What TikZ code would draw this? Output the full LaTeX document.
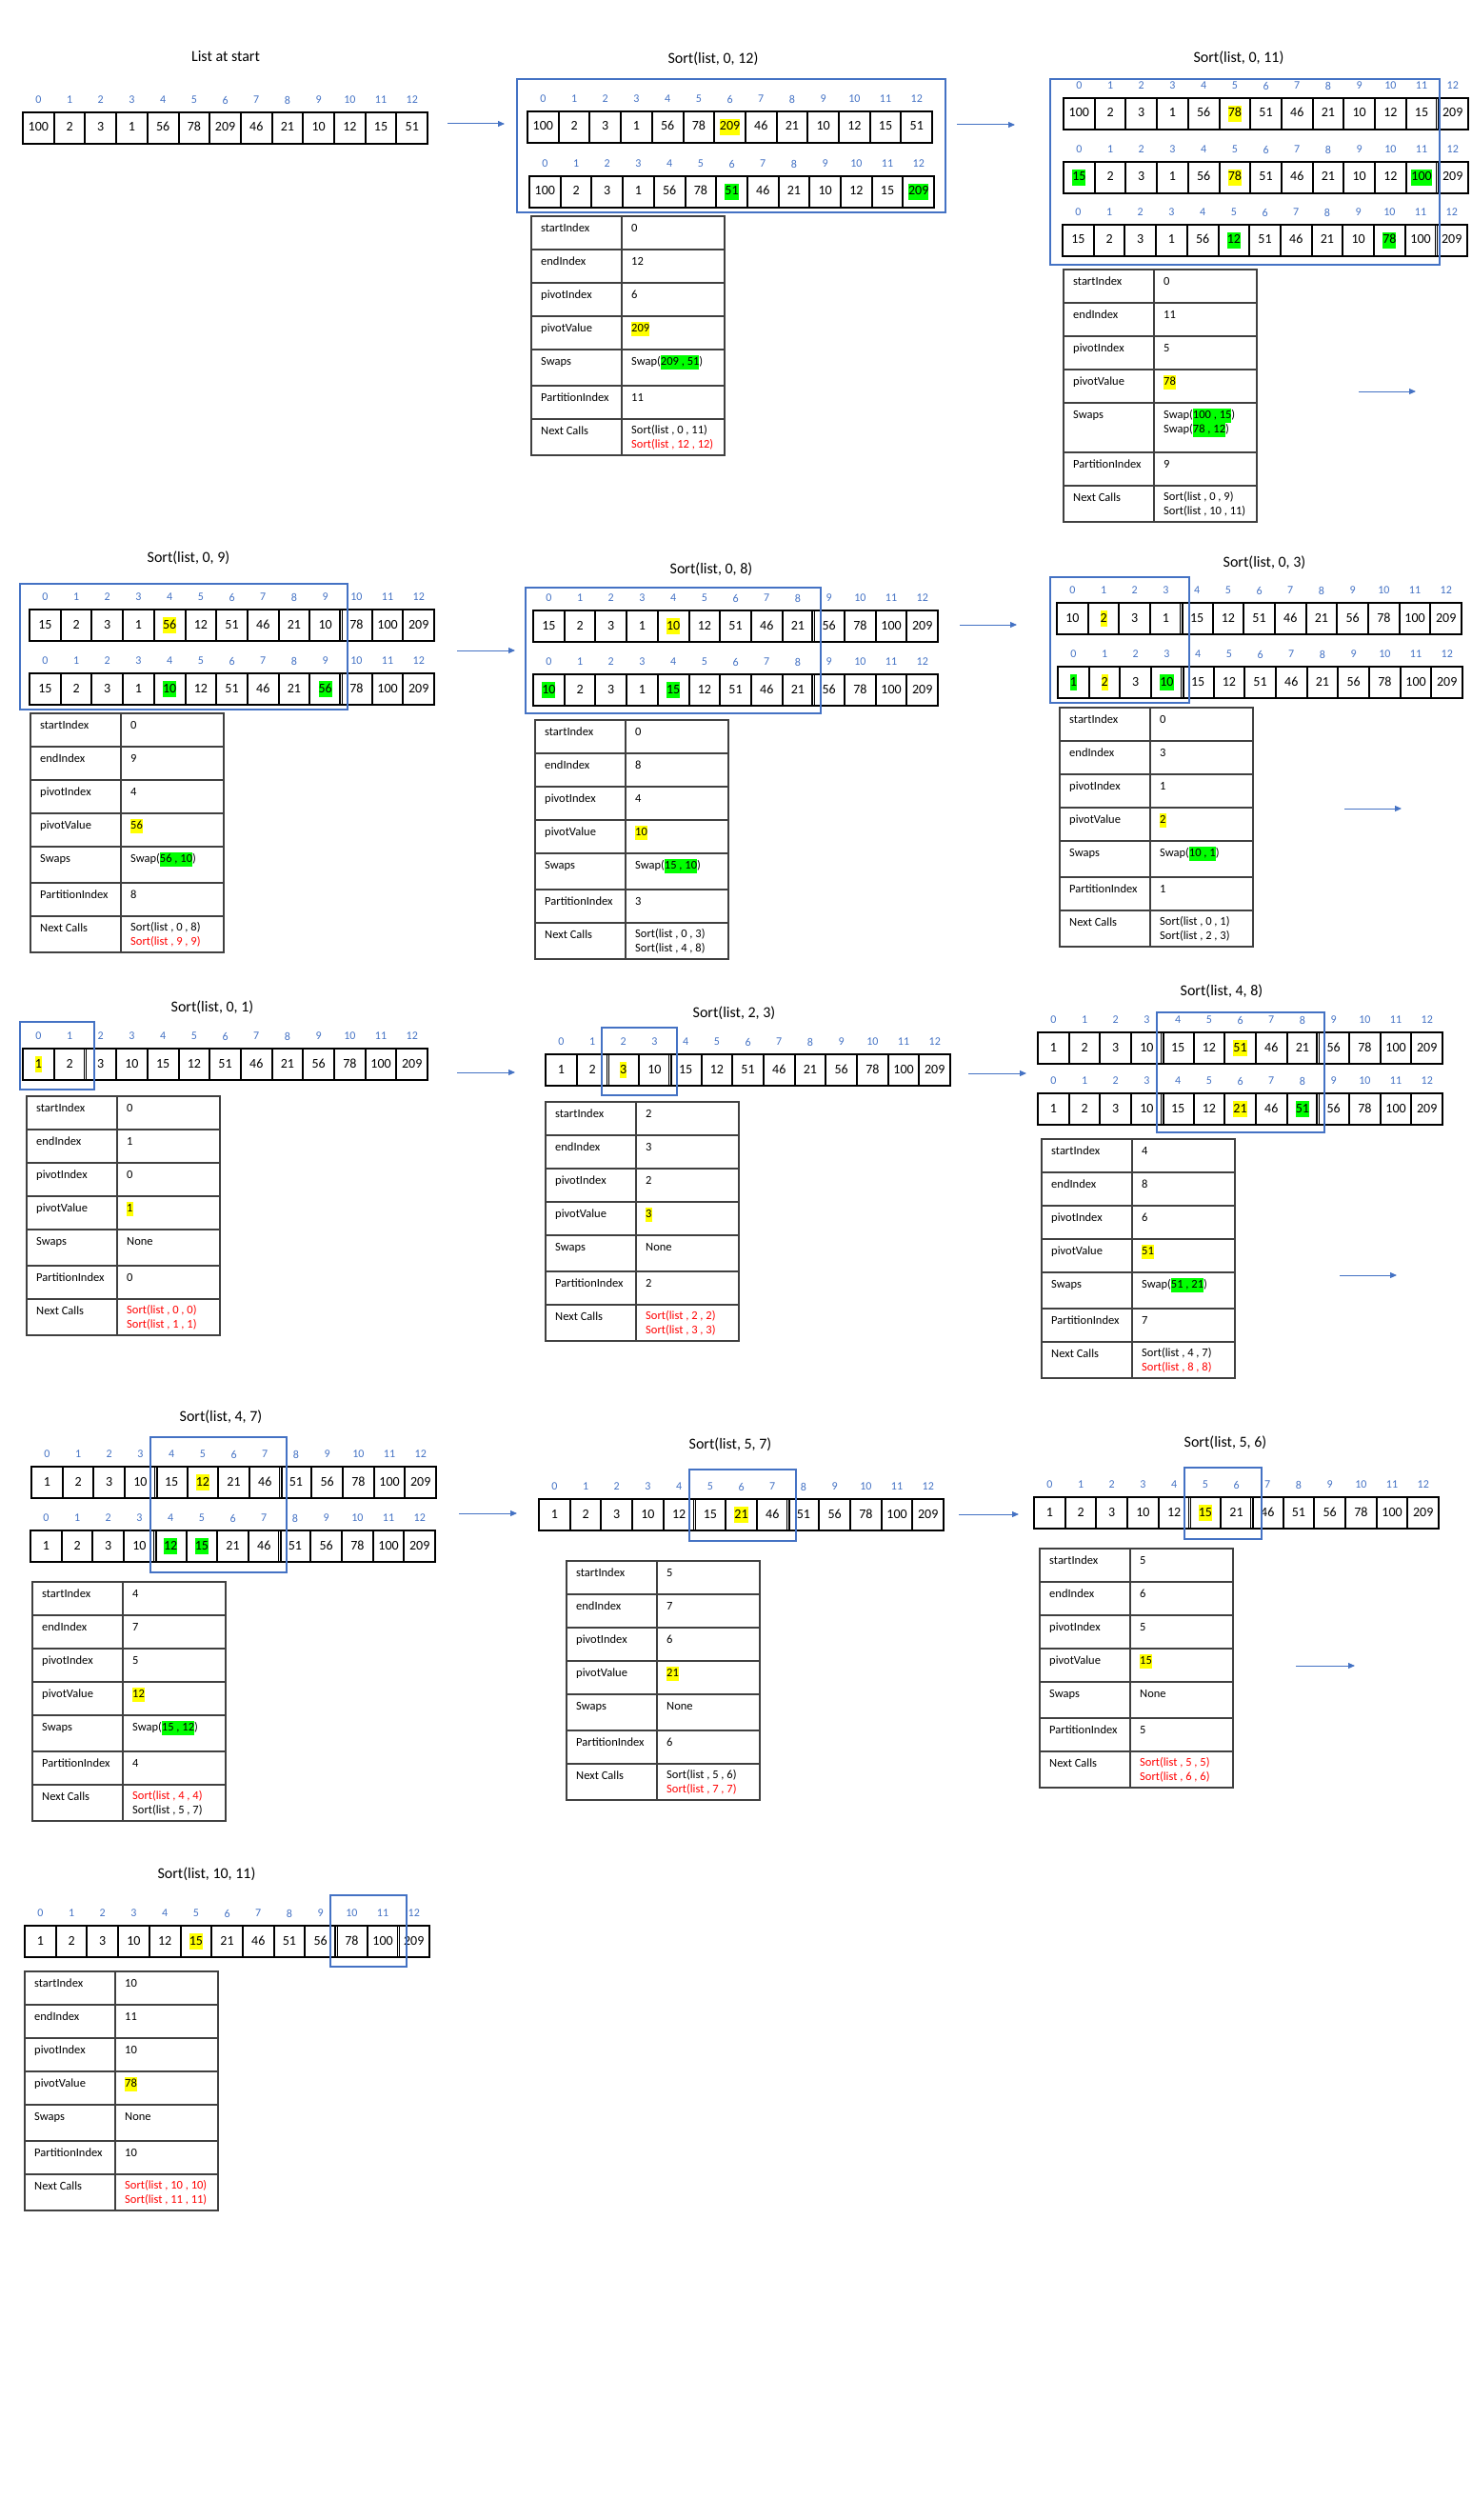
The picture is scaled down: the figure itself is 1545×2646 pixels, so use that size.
\documentclass[tikz,border=0pt]{standalone}
\usepackage{fontspec}
\setmainfont{Carlito}
\usetikzlibrary{arrows.meta}

\definecolor{idxblue}{HTML}{4472C4}
\definecolor{hlyellow}{HTML}{FFFF00}
\definecolor{hlgreen}{HTML}{00FF00}
\definecolor{callred}{HTML}{FF0000}
\definecolor{tabline}{HTML}{404040}

\newcommand\Y[1]{{\setlength\fboxsep{0pt}\colorbox{hlyellow}{\strut#1}}}
\newcommand\G[1]{{\setlength\fboxsep{0pt}\colorbox{hlgreen}{\strut#1}}}
\newcommand\R[1]{\textcolor{callred}{#1}}

\tikzset{
  cellbox/.style={draw, line width=2pt, minimum width=32.7pt, minimum height=33pt,
    inner sep=0pt, outer sep=0pt, text height=11pt, text depth=4pt,
    font=\fontsize{14}{17}\selectfont},
  idxlabel/.style={text=idxblue, inner sep=0pt, font=\fontsize{12}{14}\selectfont},
  titletext/.style={inner sep=0pt, font=\fontsize{16}{19}\selectfont},
  rangebox/.style={draw=idxblue, line width=1.4pt},
  tabgrid/.style={draw=tabline, line width=1.2pt},
  tabtext/.style={anchor=north west, inner sep=0pt, align=left,
    font=\fontsize{12.5}{15}\selectfont, execute at begin node=\strut},
  flowarrow/.style={draw=idxblue, line width=1pt, -{Triangle[length=7pt,width=6pt]}},
  splitline/.style={line width=3.8pt},
  splitgap/.style={draw=white, line width=1pt}
}

\newcommand\listrow[4]{%
  \foreach \v [count=\i from 0] in {#4}{
    \node[cellbox] (#1-\i) at ({#2+32.7*\i+16.35},{#3+16.5}) {\v};
    \node[idxlabel] (#1-n\i) at ({#2+32.7*\i+16.35},{#3-13}) {\i};
  }}

\newcommand\listsplit[2]{%
  \draw[splitline] (#1-#2.north west) -- (#1-#2.south west);
  \draw[splitgap] ([yshift=-1.3pt]#1-#2.north west) -- ([yshift=1.3pt]#1-#2.south west);}

\newcommand\infotable[4]{%
  \def\tn{#1}\def\tx{#2}\def\ty{#3}\def\ts{#4}%
  \begin{scope}[shift={(#2,#3)}]
    \draw[tabgrid] (0,0) rectangle (203,{213+#4});
    \draw[tabgrid] (95,0) -- (95,{213+#4});
    \foreach \r in {35,70,105,140,{140+#4},{175+#4}}
      \draw[tabgrid] (0,{\r}) -- (203,{\r});
    \node[tabtext] (#1-k1) at (10,6) {startIndex};
    \node[tabtext] (#1-k2) at (10,41) {endIndex};
    \node[tabtext] (#1-k3) at (10,76) {pivotIndex};
    \node[tabtext] (#1-k4) at (10,111) {pivotValue};
    \node[tabtext] (#1-k5) at (10,146) {Swaps};
    \node[tabtext] (#1-k6) at (10,{146+#4}) {PartitionIndex};
    \node[tabtext] (#1-k7) at (10,{181+#4}) {Next Calls};
  \end{scope}}

\newcommand\tablevalues[7]{%
  \begin{scope}[shift={(\tx,\ty)}]
    \node[tabtext] (\tn-v1) at (105,6) {#1};
    \node[tabtext] (\tn-v2) at (105,41) {#2};
    \node[tabtext] (\tn-v3) at (105,76) {#3};
    \node[tabtext] (\tn-v4) at (105,111) {#4};
    \node[tabtext] (\tn-v5) at (105,146) {#5};
    \node[tabtext] (\tn-v6) at (105,{146+\ts}) {#6};
    \node[tabtext] (\tn-v7) at (105,{181+\ts}) {#7};
  \end{scope}}

\begin{document}
\begin{tikzpicture}[x=1pt,y=-1pt]
  \useasboundingbox (0,0) rectangle (1545,2646);

  \node[titletext] (tstart) at (237,59) {List at start};
  \listrow{start}{24}{118}{100,2,3,1,56,78,209,46,21,10,12,15,51}
  \coordinate (a1) at (470,130); \coordinate (b1) at (530,130);
  \draw[flowarrow] (a1) -- (b1);

  \node[titletext] (t0-12) at (749,62) {Sort(list, 0, 12)};
  \listrow{s012a}{554}{117}{100,2,3,1,56,78,\Y{209},46,21,10,12,15,51}
  \listrow{s012b}{556}{185}{100,2,3,1,56,78,\G{51},46,21,10,12,15,\G{209}}
  \draw[rangebox] (543,83) rectangle (993,223);
  \infotable{s012}{558}{227}{38}
  \tablevalues{0}{12}{6}{\Y{209}}{Swap(\G{209 , 51})}{11}{Sort(list , 0 , 11)\\\R{Sort(list , 12 , 12)}}
  \coordinate (a2) at (1005,131); \coordinate (b2) at (1066,131);
  \draw[flowarrow] (a2) -- (b2);

  \node[titletext] (t0-11) at (1301,61) {Sort(list, 0, 11)};
  \listrow{s011a}{1117}{103}{100,2,3,1,56,\Y{78},51,46,21,10,12,15,209}
  \listrow{s011b}{1117}{170}{\G{15},2,3,1,56,\Y{78},51,46,21,10,12,\G{100},209}
  \listrow{s011c}{1116}{236}{15,2,3,1,56,\G{12},51,46,21,10,\G{78},100,209}
  \listsplit{s011a}{12} \listsplit{s011b}{12} \listsplit{s011c}{12}
  \draw[rangebox] (1103,83) rectangle (1512,278);
  \infotable{s011}{1117}{283}{52}
  \tablevalues{0}{11}{5}{\Y{78}}{Swap(\G{100 , 15})\\Swap(\G{78 , 12})}{9}{Sort(list , 0 , 9)\\Sort(list , 10 , 11)}
  \coordinate (a3) at (1427,411); \coordinate (b3) at (1487,411);
  \draw[flowarrow] (a3) -- (b3);

  \node[titletext] (t0-9) at (198,586) {Sort(list, 0, 9)};
  \listrow{s09a}{31}{640}{15,2,3,1,\Y{56},12,51,46,21,10,78,100,209}
  \listrow{s09b}{31}{707}{15,2,3,1,\G{10},12,51,46,21,\G{56},78,100,209}
  \listsplit{s09a}{10} \listsplit{s09b}{10}
  \draw[rangebox] (21,613) rectangle (365,745);
  \infotable{s09}{32}{749}{38}
  \tablevalues{0}{9}{4}{\Y{56}}{Swap(\G{56 , 10})}{8}{Sort(list , 0 , 8)\\\R{Sort(list , 9 , 9)}}
  \coordinate (a4) at (480,683); \coordinate (b4) at (541,683);
  \draw[flowarrow] (a4) -- (b4);

  \node[titletext] (t0-8) at (747,598) {Sort(list, 0, 8)};
  \listrow{s08a}{560}{641}{15,2,3,1,\Y{10},12,51,46,21,56,78,100,209}
  \listrow{s08b}{560}{708}{\G{10},2,3,1,\G{15},12,51,46,21,56,78,100,209}
  \listsplit{s08a}{9} \listsplit{s08b}{9}
  \draw[rangebox] (552,617) rectangle (862,749);
  \infotable{s08}{562}{756}{38}
  \tablevalues{0}{8}{4}{\Y{10}}{Swap(\G{15 , 10})}{3}{Sort(list , 0 , 3)\\Sort(list , 4 , 8)}
  \coordinate (a5) at (1008,656); \coordinate (b5) at (1068,656);
  \draw[flowarrow] (a5) -- (b5);

  \node[titletext] (t0-3) at (1328,591) {Sort(list, 0, 3)};
  \listrow{s03a}{1110}{633}{10,\Y{2},3,1,15,12,51,46,21,56,78,100,209}
  \listrow{s03b}{1111}{700}{\G{1},\Y{2},3,\G{10},15,12,51,46,21,56,78,100,209}
  \listsplit{s03a}{4} \listsplit{s03b}{4}
  \draw[rangebox] (1103,606) rectangle (1249,738);
  \infotable{s03}{1113}{743}{38}
  \tablevalues{0}{3}{1}{\Y{2}}{Swap(\G{10 , 1})}{1}{Sort(list , 0 , 1)\\Sort(list , 2 , 3)}
  \coordinate (a6) at (1412,849); \coordinate (b6) at (1472,849);
  \draw[flowarrow] (a6) -- (b6);

  \node[titletext] (t0-1) at (223,1058) {Sort(list, 0, 1)};
  \listrow{s01}{24}{1101}{\Y{1},2,3,10,15,12,51,46,21,56,78,100,209}
  \listsplit{s01}{2}
  \draw[rangebox] (21,1073) rectangle (99,1144);
  \infotable{s01}{28}{1151}{38}
  \tablevalues{0}{1}{0}{\Y{1}}{None}{0}{\R{Sort(list , 0 , 0)}\\\R{Sort(list , 1 , 1)}}
  \coordinate (a7) at (480,1126); \coordinate (b7) at (541,1126);
  \draw[flowarrow] (a7) -- (b7);

  \node[titletext] (t2-3) at (771,1064) {Sort(list, 2, 3)};
  \listrow{s23}{573}{1107}{1,2,\Y{3},10,15,12,51,46,21,56,78,100,209}
  \listsplit{s23}{2} \listsplit{s23}{4}
  \draw[rangebox] (632,1079) rectangle (711,1150);
  \infotable{s23}{573}{1157}{38}
  \tablevalues{2}{3}{2}{\Y{3}}{None}{2}{\R{Sort(list , 2 , 2)}\\\R{Sort(list , 3 , 3)}}
  \coordinate (a8) at (1017,1127); \coordinate (b8) at (1078,1127);
  \draw[flowarrow] (a8) -- (b8);

  \node[titletext] (t4-8) at (1283,1041) {Sort(list, 4, 8)};
  \listrow{s48a}{1090}{1084}{1,2,3,10,15,12,\Y{51},46,21,56,78,100,209}
  \listrow{s48b}{1090}{1148}{1,2,3,10,15,12,\Y{21},46,\G{51},56,78,100,209}
  \listsplit{s48a}{4} \listsplit{s48a}{9} \listsplit{s48b}{4} \listsplit{s48b}{9}
  \draw[rangebox] (1215,1063) rectangle (1391,1189);
  \infotable{s48}{1094}{1196}{38}
  \tablevalues{4}{8}{6}{\Y{51}}{Swap(\G{51 , 21})}{7}{Sort(list , 4 , 7)\\\R{Sort(list , 8 , 8)}}
  \coordinate (a9) at (1407,1339); \coordinate (b9) at (1467,1339);
  \draw[flowarrow] (a9) -- (b9);

  \node[titletext] (t4-7) at (232,1488) {Sort(list, 4, 7)};
  \listrow{s47a}{33}{1540}{1,2,3,10,15,\Y{12},21,46,51,56,78,100,209}
  \listrow{s47b}{32}{1607}{1,2,3,10,\G{12},\G{15},21,46,51,56,78,100,209}
  \listsplit{s47a}{4} \listsplit{s47a}{8} \listsplit{s47b}{4} \listsplit{s47b}{8}
  \draw[rangebox] (158,1509) rectangle (301,1651);
  \infotable{s47}{34}{1661}{38}
  \tablevalues{4}{7}{5}{\Y{12}}{Swap(\G{15 , 12})}{4}{\R{Sort(list , 4 , 4)}\\Sort(list , 5 , 7)}
  \coordinate (a10) at (482,1589); \coordinate (b10) at (543,1589);
  \draw[flowarrow] (a10) -- (b10);

  \node[titletext] (t5-7) at (767,1517) {Sort(list, 5, 7)};
  \listrow{s57}{566}{1574}{1,2,3,10,12,15,\Y{21},46,51,56,78,100,209}
  \listsplit{s57}{5} \listsplit{s57}{8}
  \draw[rangebox] (724,1543) rectangle (836,1618);
  \infotable{s57}{595}{1639}{38}
  \tablevalues{5}{7}{6}{\Y{21}}{None}{6}{Sort(list , 5 , 6)\\\R{Sort(list , 7 , 7)}}
  \coordinate (a11) at (1007,1590); \coordinate (b11) at (1070,1590);
  \draw[flowarrow] (a11) -- (b11);

  \node[titletext] (t5-6) at (1287,1515) {Sort(list, 5, 6)};
  \listrow{s56}{1086}{1572}{1,2,3,10,12,\Y{15},21,46,51,56,78,100,209}
  \listsplit{s56}{5} \listsplit{s56}{7}
  \draw[rangebox] (1244,1541) rectangle (1325,1616);
  \infotable{s56}{1092}{1626}{38}
  \tablevalues{5}{6}{5}{\Y{15}}{None}{5}{\R{Sort(list , 5 , 5)}\\\R{Sort(list , 6 , 6)}}
  \coordinate (a12) at (1361,1749); \coordinate (b12) at (1423,1749);
  \draw[flowarrow] (a12) -- (b12);

  \node[titletext] (t10-11) at (217,1968) {Sort(list, 10, 11)};
  \listrow{s1011}{26}{2022}{1,2,3,10,12,\Y{15},21,46,51,56,78,100,209}
  \listsplit{s1011}{10} \listsplit{s1011}{12}
  \draw[rangebox] (347,1990) rectangle (427,2065);
  \infotable{s1011}{26}{2070}{38}
  \tablevalues{10}{11}{10}{\Y{78}}{None}{10}{\R{Sort(list , 10 , 10)}\\\R{Sort(list , 11 , 11)}}
\end{tikzpicture}
\end{document}
